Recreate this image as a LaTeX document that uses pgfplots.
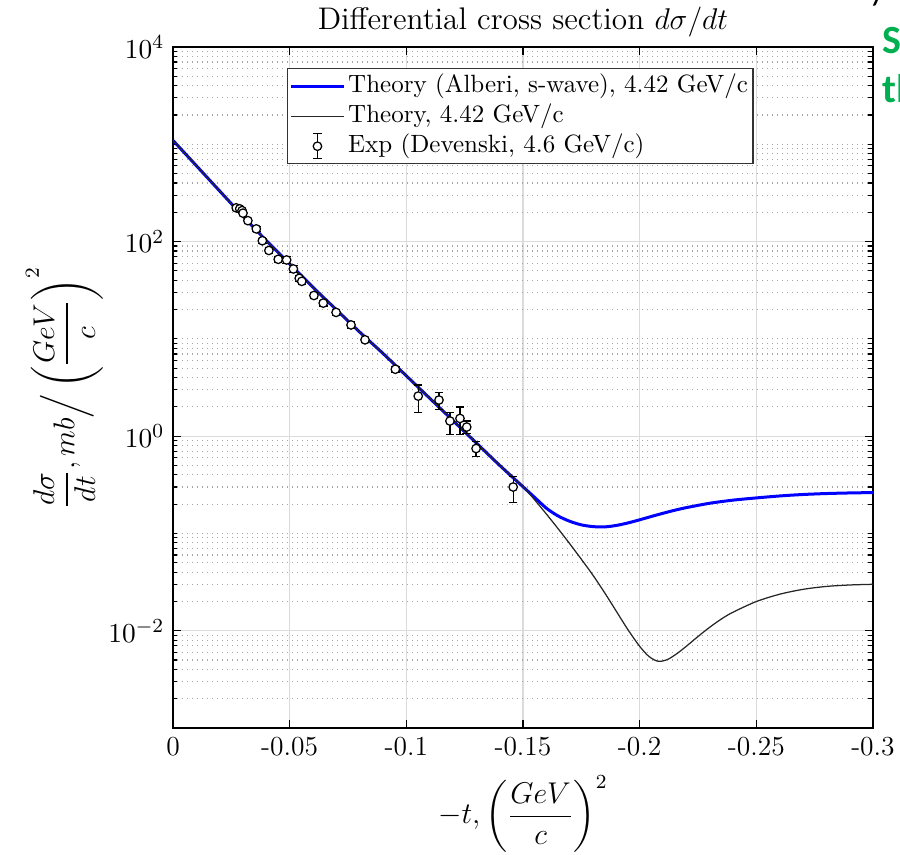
\documentclass[border=0pt]{standalone}
\usepackage{amsmath}
\usepackage{fontspec}
\newfontfamily\calibri{Carlito}
\usepackage{pgfplots}
\pgfplotsset{compat=1.18}
\definecolor{mlblue}{RGB}{0,0,255}
\definecolor{pptgreen}{RGB}{0,176,80}

\begin{document}
\begin{tikzpicture}
\begin{axis}[
  name=ax,
  scale only axis,
  width=280pt, height=272.4pt,
  xmin=-0.3, xmax=0, x dir=reverse,
  ymode=log, ymin=1e-3, ymax=1e4,
  xtick={-0.3,-0.25,-0.2,-0.15,-0.1,-0.05,0},
  xticklabels={-0.3,-0.25,-0.2,-0.15,-0.1,-0.05,0},
  ytick={1e-2,1,1e2,1e4},
  minor ytick={2e-3,3e-3,4e-3,5e-3,6e-3,7e-3,8e-3,9e-3,
    2e-2,3e-2,4e-2,5e-2,6e-2,7e-2,8e-2,9e-2,
    1e-1,2e-1,3e-1,4e-1,5e-1,6e-1,7e-1,8e-1,9e-1,
    2,3,4,5,6,7,8,9,
    10,20,30,40,50,60,70,80,90,
    200,300,400,500,600,700,800,900,
    1000,2000,3000,4000,5000,6000,7000,8000,9000},
  xmajorgrids, ymajorgrids, yminorgrids,
  major grid style={black!14, line width=0.5pt},
  minor grid style={black!35, line width=0.5pt, dash pattern=on 0.5pt off 1.5pt},
  tick style={black, line width=0.5pt},
  major tick length=3.2pt, minor tick length=1.8pt,
  axis line style={line width=0.6pt},
  ticklabel style={font=\fontsize{11}{13}\selectfont},
  title={Differential cross section $d\sigma/dt$},
  title style={font=\fontsize{12.5}{15}\selectfont, at={(axis description cs:0.5,1)},
    anchor=base, yshift=0.8pt},
  xlabel={$-t, \left(\dfrac{GeV}{c}\right)^{2}$},
  ylabel={$\dfrac{d\sigma}{dt}, mb\Big/\left(\dfrac{GeV}{c}\right)^{2}$},
  label style={font=\large},
  xlabel style={at={(axis description cs:0.5,-0.126)}, anchor=center},
  ylabel style={at={(axis description cs:-0.155,0.5)}, anchor=center},
  legend style={at={(0.163,0.969)}, anchor=north west, draw=black!80,
    line width=0.5pt, font=\normalsize, fill=white,
    inner xsep=0.8pt, inner ysep=1pt, row sep=0pt,
    nodes={inner sep=1.2pt, text height=7.2pt, text depth=2.4pt}},
  legend cell align=left,
  legend image code/.code={\draw[#1] (0pt,0pt) -- (21pt,0pt);},
]
% theory, Alberi s-wave
\addplot[mlblue, line width=1.2pt, smooth] coordinates {
  (0,1096) (-0.01,602.6) (-0.02,331.1) (-0.03,182.0) (-0.04,102.3)
  (-0.05,58.88) (-0.06,33.88) (-0.07,19.95) (-0.08,11.75) (-0.09,7.079)
  (-0.1,4.169) (-0.11,2.455) (-0.12,1.445) (-0.13,0.8511) (-0.14,0.5012)
  (-0.15,0.3020) (-0.155,0.2344) (-0.16,0.1820) (-0.165,0.1514) (-0.17,0.1334)
  (-0.175,0.1225) (-0.18,0.1175) (-0.185,0.1167) (-0.19,0.1208) (-0.195,0.1282)
  (-0.2,0.1380) (-0.205,0.1493) (-0.21,0.1611) (-0.215,0.1730) (-0.22,0.1841)
  (-0.23,0.2042) (-0.24,0.2198) (-0.25,0.2317)
  (-0.26,0.2427) (-0.27,0.2512) (-0.28,0.2570) (-0.29,0.2606) (-0.3,0.2630)
};
\addlegendentry{Theory (Alberi, s-wave), 4.42 GeV/c}
% theory
\addplot[black!85, line width=0.5pt, smooth] coordinates {
  (0,1096) (-0.01,602.6) (-0.02,331.1) (-0.03,182.0) (-0.04,102.3)
  (-0.05,58.88) (-0.06,33.88) (-0.07,19.95) (-0.08,11.75) (-0.09,7.079)
  (-0.1,4.169) (-0.11,2.455) (-0.12,1.445) (-0.13,0.8511) (-0.14,0.5012)
  (-0.15,0.3020) (-0.155,0.2213) (-0.16,0.1585) (-0.165,0.1122) (-0.17,0.07852)
  (-0.175,0.05433) (-0.18,0.03715) (-0.185,0.02455) (-0.19,0.01585) (-0.195,0.01023)
  (-0.2,0.006918) (-0.204,0.005433) (-0.208,0.004842) (-0.212,0.005070) (-0.216,0.005821)
  (-0.22,0.006918) (-0.225,0.008710) (-0.23,0.01084) (-0.235,0.01318) (-0.24,0.01549)
  (-0.25,0.01995) (-0.26,0.02371) (-0.27,0.02661) (-0.28,0.02851) (-0.29,0.02951)
  (-0.3,0.02999)
};
\addlegendentry{Theory, 4.42 GeV/c}
% experiment
\addplot[black, line width=0.5pt, only marks, mark=*, mark size=1.7pt,
  mark options={fill=white, draw=black},
  legend image code/.code={
    \draw[black, line width=0.5pt] (10.5pt,-5pt) -- (10.5pt,5pt)
      (8.8pt,-5pt) -- (12.2pt,-5pt) (8.8pt,5pt) -- (12.2pt,5pt);
    \draw[black, fill=white, line width=0.5pt] (10.5pt,0pt) circle (1.7pt);},
  error bars/.cd, y dir=both, y explicit,
  error mark options={rotate=90, black, mark size=1.7pt, line width=0.5pt},
  error bar style={black, line width=0.5pt}] coordinates {
  (-0.0271,222) +- (0,12)
  (-0.0286,217) +- (0,12)
  (-0.0296,208) +- (0,11)
  (-0.0300,196) +- (0,10)
  (-0.0321,164) +- (0,9)
  (-0.0357,135) +- (0,7)
  (-0.0383,102) +- (0,6)
  (-0.0411,81) +- (0,5)
  (-0.0451,65.7) +- (0,4)
  (-0.0487,64.7) +- (0,5)
  (-0.0516,52.3) +- (0,4)
  (-0.0541,41.9) +- (0,3)
  (-0.0552,39.0) +- (0,3)
  (-0.0604,27.9) +- (0,1.8)
  (-0.0644,23.3) +- (0,1.5)
  (-0.0699,18.7) +- (0,1.2)
  (-0.0763,13.9) +- (0,1.0)
  (-0.0823,9.77) +- (0,0.6)
  (-0.0953,4.87) +- (0,0.3)
  (-0.1051,2.58) += (0,0.78) -= (0,0.84)
  (-0.1140,2.35) += (0,0.45) -= (0,0.47)
  (-0.1187,1.43) += (0,0.31) -= (0,0.39)
  (-0.1230,1.52) += (0,0.47) -= (0,0.48)
  (-0.1259,1.24) += (0,0.19) -= (0,0.18)
  (-0.1299,0.746) += (0,0.141) -= (0,0.124)
  (-0.1458,0.300) += (0,0.087) -= (0,0.091)
};
\addlegendentry{Exp (Devenski, 4.6 GeV/c)}
\end{axis}
\pgfresetboundingbox
\path[use as bounding box] (ax.south west) ++(-69.2pt,-50.8pt) rectangle ++(360pt,342pt);
\node[anchor=west, text=pptgreen, font=\calibri\bfseries\fontsize{16}{19}\selectfont, inner sep=0pt]
  at ([xshift=3.6pt,yshift=2.6pt]ax.north east) {S};
\node[anchor=west, text=pptgreen, font=\calibri\bfseries\fontsize{16}{19}\selectfont, inner sep=0pt]
  at ([xshift=3.6pt,yshift=-16.8pt]ax.north east) {th};
\node[anchor=south, font=\calibri\fontsize{16}{19}\selectfont, inner sep=0pt]
  at ([xshift=3.4pt,yshift=16pt]ax.north east) {/};
\end{tikzpicture}
\end{document}
